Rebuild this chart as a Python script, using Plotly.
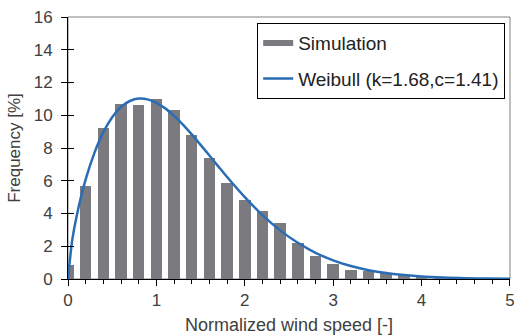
import plotly.graph_objects as go

# Histogram of simulated normalized wind speed (bin centres, frequency %)
bin_centres = [0.0, 0.2, 0.4, 0.6, 0.8, 1.0, 1.2, 1.4, 1.6, 1.8, 2.0, 2.2,
               2.4, 2.6, 2.8, 3.0, 3.2, 3.4, 3.6, 3.8, 4.0, 4.2, 4.4, 4.6]
sim_freq = [0.87, 5.67, 9.24, 10.66, 10.62, 11.0, 10.33, 8.77, 7.42, 5.84, 4.82, 4.13,
            3.43, 2.19, 1.38, 0.91, 0.55, 0.5, 0.35, 0.25, 0.15, 0.1, 0.06, 0.04]

# Weibull fit curve
weib_x = [0.0, 0.05, 0.1, 0.2, 0.3, 0.4, 0.5, 0.6, 0.7, 0.8, 0.9, 1.0, 1.1, 1.2,
          1.3, 1.4, 1.5, 1.6, 1.7, 1.8, 2.0, 2.2, 2.4, 2.6, 2.8, 3.0, 3.2, 3.4,
          3.6, 3.8, 4.0, 4.25, 4.5, 4.75, 5.0]
weib_y = [0.0, 2.45, 3.9, 6.08, 7.72, 8.97, 9.88, 10.51, 10.87, 11.02, 10.97, 10.76,
          10.42, 9.96, 9.43, 8.83, 8.19, 7.54, 6.88, 6.23, 5.0, 3.9, 2.97, 2.21,
          1.6, 1.14, 0.79, 0.54, 0.36, 0.24, 0.15, 0.085, 0.045, 0.024, 0.012]

x_ticks = [0, 1, 2, 3, 4, 5]
y_ticks = [0, 2, 4, 6, 8, 10, 12, 14, 16]

BAR = "#7b7b7f"
LINE = "#2a6db4"
TXT = "#404040"
FONT = "Liberation Sans, Arial, sans-serif"

fig = go.Figure()
fig.add_trace(go.Bar(x=bin_centres, y=sim_freq, width=0.13, marker=dict(color=BAR, line=dict(width=0)),
                     name="Simulation", showlegend=False))
# legend entry for the bars (wide grey bar symbol)
fig.add_trace(go.Scatter(x=[None], y=[None], mode="lines", line=dict(color=BAR, width=6),
                         name="Simulation", legendgroup="a", yaxis="y2"))
fig.add_trace(go.Scatter(x=weib_x, y=weib_y, mode="lines", line=dict(color=LINE, width=2.5, shape="spline"),
                         name="Weibull (k=1.68,c=1.41)", legendgroup="b"))

fig.update_layout(
    width=514, height=336,
    margin=dict(l=68, r=4, t=17, b=57),
    paper_bgcolor="white", plot_bgcolor="white",
    font=dict(family=FONT, color=TXT, size=17),
    showlegend=True,
    legend=dict(x=0.428, y=0.977, xanchor="left", yanchor="top",
                bordercolor="#000000", borderwidth=1, bgcolor="white",
                font=dict(size=19, color="#222222"), traceorder="grouped",
                tracegroupgap=8, itemwidth=30),
    xaxis=dict(range=[0, 5.0005], tickvals=x_ticks, ticks="outside", ticklen=6, tickcolor="#000",
               showline=True, linecolor="#000", linewidth=1, showgrid=False, zeroline=False,
               automargin=False, ticklabeloverflow="allow",
               minor=dict(dtick=0.2, ticks="outside", ticklen=4, tickcolor="#000"),
               tickfont=dict(size=17, color=TXT),
               title=dict(text="Normalized wind speed [-]", font=dict(size=18, color=TXT), standoff=8)),
    yaxis=dict(range=[0, 16], tickvals=y_ticks, ticks="outside", ticklen=6, tickcolor="#000",
               showline=True, linecolor="#000", linewidth=1, showgrid=False, zeroline=False,
               automargin=False, ticklabeloverflow="allow",
               ticklabelstandoff=5, tickfont=dict(size=17, color=TXT),
               title=dict(text="Frequency [%]", font=dict(size=17, color=TXT), standoff=8)),
    yaxis2=dict(range=[0, 16], overlaying="y", anchor="x", side="left", tickvals=y_ticks,
                ticks="inside", ticklen=6, tickcolor="#000", showticklabels=False,
                showline=False, showgrid=False, zeroline=False, automargin=False),
    bargap=0,
)
fig.add_shape(type="rect", xref="x domain", yref="y domain", x0=0, x1=1, y0=0, y1=1,
              line=dict(color="#808080", width=1), layer="below")

# remove the page's default body margin / scrollbars so the figure fills the window exactly
fig.write_html("out.html", config={"displayModeBar": False},
               post_script="document.body.style.margin='0';document.body.style.overflow='hidden';")
